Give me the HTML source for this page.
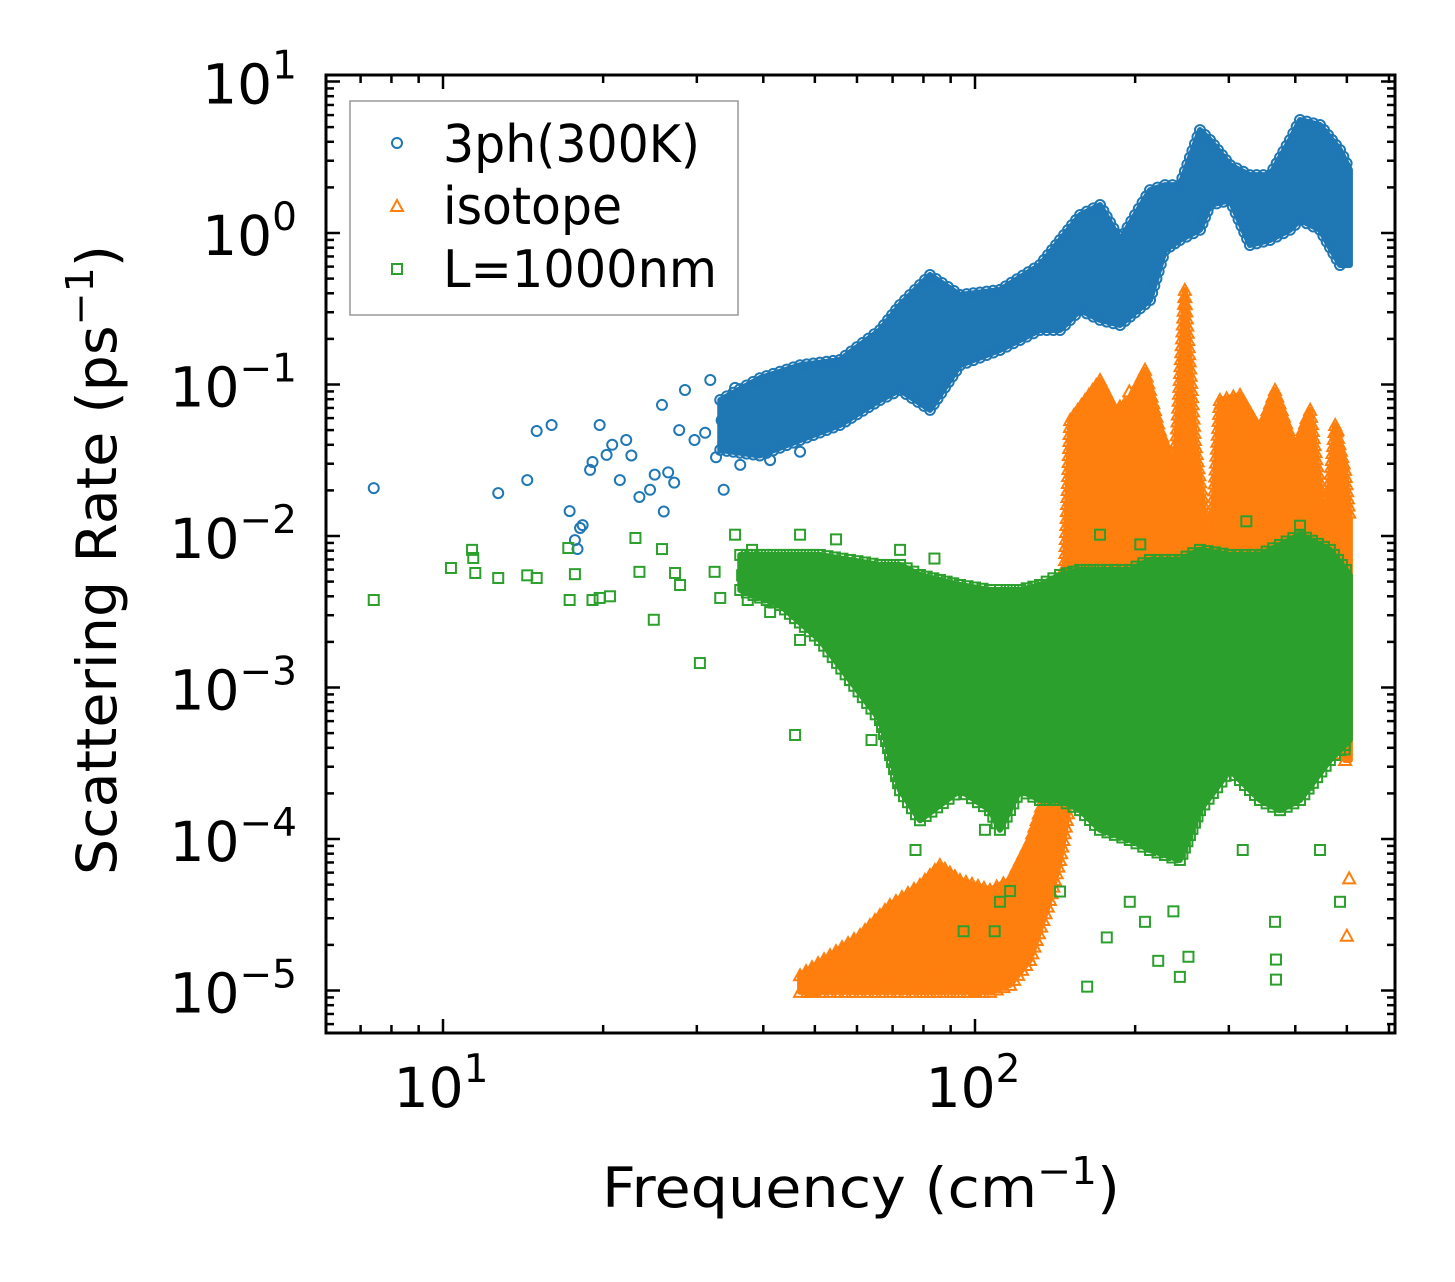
<!DOCTYPE html>
<html><head><meta charset="utf-8">
<style>
html,body{margin:0;padding:0;background:#fff;}
svg{display:block;font-family:"DejaVu Sans","Liberation Sans",sans-serif;}
</style></head>
<body>
<svg id="chart" width="1455" height="1282" viewBox="0 0 1455 1282" xmlns="http://www.w3.org/2000/svg">
  <defs><clipPath id="plotclip"><rect x="326" y="75" width="1069" height="958"/></clipPath></defs>
  <g id="data" clip-path="url(#plotclip)"></g>
  <rect x="326" y="75" width="1069" height="958" fill="none" stroke="#000" stroke-width="3"/>
  <g id="ticks"></g>
  <g id="ticklabels" font-size="55" fill="#000"></g>
  <text x="602" y="1207" font-size="55" textLength="518" lengthAdjust="spacingAndGlyphs">Frequency (cm<tspan font-size="38" dy="-23">−1</tspan><tspan dy="23">)</tspan></text>
  <text transform="translate(116,875) rotate(-90)" font-size="55" textLength="630" lengthAdjust="spacingAndGlyphs">Scattering Rate (ps<tspan font-size="38" dy="-23">−1</tspan><tspan dy="23">)</tspan></text>
  <g>
    <rect x="350" y="101" width="388" height="214" fill="#fff" stroke="#999" stroke-width="1.5"/>
    <circle cx="397" cy="143" r="5" fill="none" stroke="#1f77b4" stroke-width="2"/>
    <text x="443" y="162" font-size="52" textLength="257" lengthAdjust="spacingAndGlyphs">3ph(300K)</text>
    <polygon points="397,200 403,211 391,211" fill="none" stroke="#ff7f0e" stroke-width="2"/>
    <text x="443" y="224" font-size="52" textLength="179" lengthAdjust="spacingAndGlyphs">isotope</text>
    <rect x="392" y="264" width="10" height="10" fill="none" stroke="#2ca02c" stroke-width="2"/>
    <text x="443" y="287" font-size="52" textLength="274" lengthAdjust="spacingAndGlyphs">L=1000nm</text>
  </g>
</svg>
<script>
// ---- data ----
const xTickValues = [10, 100];
const xTickExps = ["1", "2"];
const yTickValues = [10, 1, 0.1, 0.01, 0.001, 0.0001, 0.00001];
const yTickExps = ["1", "0", "−1", "−2", "−3", "−4", "−5"];

// 3ph (blue) sparse low-frequency points
const blueFreq = [7.41,12.7,14.4,15.0,16.0,17.3,17.7,17.9,18.1,18.3,18.9,19.1,19.7,20.3,20.8,21.5,22.1,22.6,23.4,24.5,25.0,25.8,26.0,26.5,27.2,27.8,28.5,29.7,31.1,31.8,32.6,33.4,33.7,35.4,36.2,37.4,38.6,40.3,41.2,44.0,46.9];
const blueRate = [0.0207,0.0192,0.0234,0.0493,0.054,0.0146,0.0094,0.0082,0.0113,0.0118,0.0273,0.0308,0.054,0.0343,0.040,0.0234,0.043,0.034,0.0181,0.0202,0.0254,0.0733,0.0145,0.0263,0.0225,0.050,0.092,0.043,0.048,0.107,0.0331,0.058,0.0202,0.095,0.0295,0.043,0.079,0.104,0.0317,0.085,0.036];
// 3ph dense band envelope
const blueBandFreq = [33.2,39.4,46.9,55.7,66.3,72.3,82.3,93.7,111.4,132.5,144.5,157.6,171.8,187.4,213.3,227.6,242.7,264.8,276.5,301.5,328.7,358.5,390.9,408.3,445.2,485.4,506.7];
const blueBandHigh = [0.079,0.110,0.134,0.145,0.229,0.335,0.528,0.390,0.421,0.615,0.899,1.315,1.53,0.899,1.92,2.07,2.07,4.78,4.11,2.81,2.41,2.41,4.11,5.57,5.16,3.53,2.61];
const blueBandLow  = [0.037,0.034,0.043,0.054,0.079,0.092,0.068,0.134,0.169,0.229,0.229,0.310,0.267,0.247,0.361,0.772,0.899,1.05,1.53,1.65,0.833,0.899,1.05,1.22,1.05,0.615,0.615];

// isotope (orange) band envelope
const orangeBandFreq = [46.9,53.4,60.8,69.2,78.8,85.9,93.7,106.7,116.4,126.9,138.3,144.5,151.0,161.1,171.8,183.3,195.4,208.7,222.6,237.4,248.0,259.1,276.5,288.7,314.9,343.3,366.4,399.5,426.6,455.3,475.4,496.2,506.7];
const orangeBandHigh = [1.26e-5,1.71e-5,2.32e-5,3.66e-5,4.97e-5,6.73e-5,5.36e-5,4.61e-5,5.36e-5,9.85e-5,2.45e-4,8.26e-4,0.0583,0.079,0.107,0.068,0.079,0.125,0.050,0.0273,0.421,0.043,0.00695,0.079,0.0853,0.050,0.092,0.037,0.068,0.011,0.054,0.0273,0.0128];
const orangeBandLow  = [9.8e-6,9.8e-6,9.8e-6,9.8e-6,9.8e-6,9.8e-6,9.8e-6,9.8e-6,1.09e-5,1.59e-5,3.96e-5,7.27e-5,1.81e-4,0.00206,0.00279,0.00378,0.00513,0.00279,0.00279,0.00206,8.26e-4,8.26e-4,6.1e-4,6.1e-4,6.1e-4,6.1e-4,6.1e-4,6.1e-4,6.1e-4,6.1e-4,4.5e-4,3.32e-4,3.32e-4];
const orangeFreq = [49.5,55,62,70,76,84,92,100,108,195,205,290,315,420,480,500,505];
const orangeRate = [1.0e-5,1.5e-5,1.1e-5,1.3e-5,2.6e-5,1.5e-5,1.2e-5,1.0e-5,1.1e-5,0.09,0.0085,0.075,0.07,0.06,0.05,2.3e-5,5.5e-5];

// L=1000nm (green) sparse points
const greenFreq = [7.41,10.35,11.34,11.4,11.5,12.7,14.4,15.0,17.2,17.3,17.7,19.1,19.7,20.6,23.0,23.4,24.9,25.8,27.3,27.9,30.4,32.4,33.2,35.4,36.5,37.4,38.1,39.4,45.9,41.2,44.9,52.3,58.2,60.8];
const greenRate = [0.00378,0.00615,0.0081,0.00716,0.0057,0.00528,0.0055,0.00528,0.00833,0.00378,0.0056,0.00378,0.0039,0.0040,0.0097,0.0058,0.0028,0.0082,0.0057,0.00475,0.00145,0.0058,0.0039,0.0102,0.0055,0.00378,0.0081,0.0060,0.000486,0.00315,0.00695,0.00695,0.00475,0.00325];
// green outliers within dense region
const greenOutFreq = [46.9,58.2,63.9,66.3,75.5,77.3,82.3,95.2,104.4,108.9,111.4,116.4,132.5,141.5,144.5,162.5,176.9,195.4,208.7,221.0,236.0,242.7,251.9,276.5,318.6,343.3,366.4,367.9,367.9,423.0,445.2,485.4,495.0,46.9,54.8,72.3,83.9,171.8,204.5,251.9,323.6,408.3];
const greenOutRate = [0.00206,0.00112,0.00045,0.00061,0.00027,0.0000846,0.00031,0.0000246,0.000115,0.0000246,0.0000385,0.0000453,0.000285,0.000181,0.000045,0.0000106,0.0000224,0.0000385,0.0000284,0.0000157,0.0000333,0.0000123,0.0000167,0.00031,0.0000846,0.000181,0.0000284,0.000016,0.0000118,0.000228,0.0000846,0.0000385,0.00039,0.0102,0.0095,0.0081,0.0071,0.0102,0.0088,0.0063,0.0125,0.0117];
// green dense band envelope
const greenBandFreq = [36.2,43.0,51.1,58.2,66.3,72.3,78.8,93.7,106.7,111.4,121.5,132.5,144.5,157.6,171.8,195.4,213.3,242.7,264.8,301.5,343.3,374.3,408.3,464.6,506.7];
const greenBandHigh = [0.0075,0.0075,0.0075,0.00695,0.00644,0.00644,0.00553,0.00475,0.0044,0.0044,0.0044,0.00475,0.00553,0.00597,0.00597,0.00597,0.00695,0.00695,0.0081,0.0075,0.0075,0.00873,0.0102,0.0081,0.00553];
const greenBandLow  = [0.0044,0.0035,0.00206,0.00112,0.00061,0.00021,0.000133,0.00021,0.000155,0.000115,0.00021,0.000181,0.000181,0.000155,0.000115,0.0000985,0.0000846,0.0000727,0.000155,0.000285,0.000181,0.000155,0.000181,0.000332,0.00045];

// ---- axes ----
const NS = "http://www.w3.org/2000/svg";
const X0 = 443, XD = 532, Y0 = 233, YD = 151.5;
function xs(f){ return X0 + XD*(Math.log10(f)-1); }
function ys(r){ return Y0 - YD*Math.log10(r); }
const dataG = document.getElementById('data');
const tickG = document.getElementById('ticks');
const labG = document.getElementById('ticklabels');
function mk(tag, attrs, parent){
  const e = document.createElementNS(NS, tag);
  for (const k in attrs) e.setAttribute(k, attrs[k]);
  parent.appendChild(e); return e;
}
const COL = {b:"#1f77b4", o:"#ff7f0e", g:"#2ca02c"};
function marker(kind, x, y, parent){
  let e;
  if (kind === 'b') e = mk('circle', {cx:x, cy:y, r:5, fill:'none', stroke:COL.b, 'stroke-width':2}, parent);
  else if (kind === 'o') e = mk('polygon', {points:`${x},${y-6} ${x+6},${y+5} ${x-6},${y+5}`, fill:'none', stroke:COL.o, 'stroke-width':2}, parent);
  else e = mk('rect', {x:x-5, y:y-5, width:10, height:10, fill:'none', stroke:COL.g, 'stroke-width':2}, parent);
  return e;
}
function band(kind, fArr, hi, lo, name){
  const g = mk('g', {}, dataG);
  
  
  const pts = [];
  for (let i=0;i<fArr.length;i++) pts.push(xs(fArr[i])+','+ys(hi[i]));
  for (let i=fArr.length-1;i>=0;i--) pts.push(xs(fArr[i])+','+ys(lo[i]));
  const p = mk('polygon', {points:pts.join(' '), fill:COL[kind], stroke:COL[kind], 'stroke-width':6, 'stroke-linejoin':'round'}, g);
  
  
  [hi, lo].forEach(arr => {
    for (let i=0;i<fArr.length-1;i++){
      const x1=xs(fArr[i]), y1=ys(arr[i]), x2=xs(fArr[i+1]), y2=ys(arr[i+1]);
      const n = Math.max(1, Math.round(Math.hypot(x2-x1,y2-y1)/7));
      for (let k=0;k<n;k++){
        const t=k/n;
        const m = marker(kind, x1+(x2-x1)*t, y1+(y2-y1)*t, g);
        
        
      }
    }
  });
}
function scatter(kind, fArr, rArr, name){
  const g = mk('g', {}, dataG);
  
  
  for (let i=0;i<fArr.length;i++){
    const m = marker(kind, xs(fArr[i]), ys(rArr[i]), g);
    
    
  }
}
band('b', blueBandFreq, blueBandHigh, blueBandLow, '3ph-band');
scatter('b', blueFreq, blueRate, '3ph-series');
band('o', orangeBandFreq, orangeBandHigh, orangeBandLow, 'isotope-band');
scatter('o', orangeFreq, orangeRate, 'isotope-series');
band('g', greenBandFreq, greenBandHigh, greenBandLow, 'boundary-band');
scatter('g', greenFreq, greenRate, 'boundary-series');
scatter('g', greenOutFreq, greenOutRate, 'boundary-outliers');

// ---- ticks ----
const L=326, R=1395, T=75, B=1033;
function line(x1,y1,x2,y2,w){
  const l = mk('line', {x1:x1,y1:y1,x2:x2,y2:y2,stroke:'#000','stroke-width':w}, tickG);
  
  
}
for (let d=0; d<=3; d++){
  for (let m=1; m<=9; m++){
    const v = m*Math.pow(10,d);
    const x = xs(v);
    if (x < L+1 || x > R-1) continue;
    const len = m===1 ? 14 : 8;
    line(x,B,x,B-len,2.5); line(x,T,x,T+len,2.5);
  }
}
for (let d=-6; d<=1; d++){
  for (let m=1; m<=9; m++){
    const v = m*Math.pow(10,d);
    const y = ys(v);
    if (y < T+1 || y > B-1) continue;
    const len = m===1 ? 14 : 8;
    line(L,y,L+len,y,2.5); line(R,y,R-len,y,2.5);
  }
}
xTickValues.forEach((v,i)=>{
  const t = mk('text', {x:xs(v)-2, y:1107, 'text-anchor':'middle'}, labG);
  
  
  t.innerHTML = '10<tspan font-size="39" dy="-25">'+xTickExps[i]+'</tspan>';
});
yTickValues.forEach((v,i)=>{
  const t = mk('text', {x:297, y:ys(v)+22, 'text-anchor':'end'}, labG);
  
  
  t.innerHTML = '10<tspan font-size="39" dy="-25">'+yTickExps[i]+'</tspan>';
});
</script>
</body></html>
